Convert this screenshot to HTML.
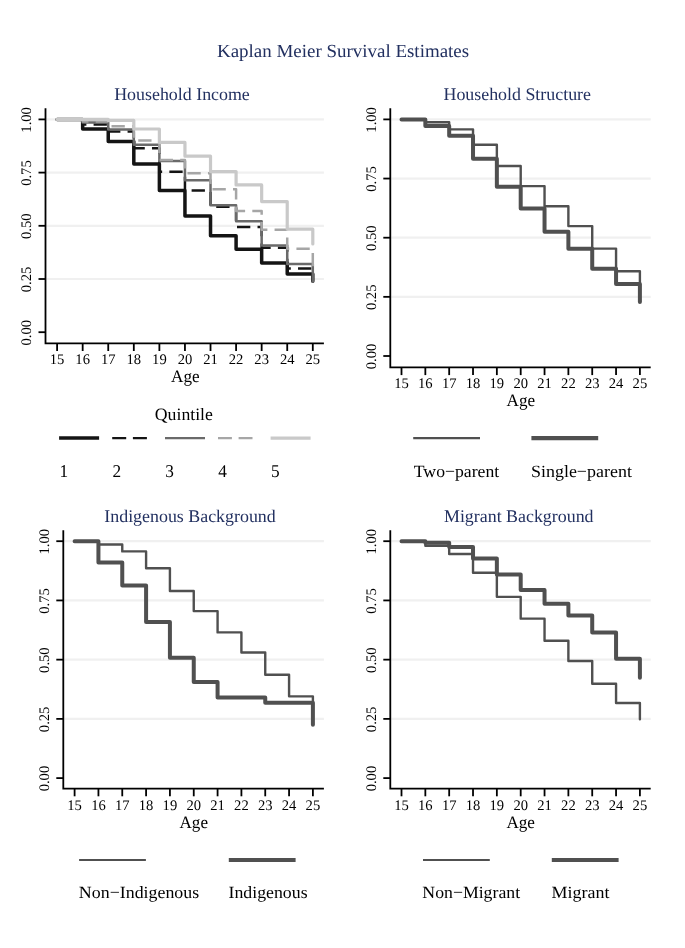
<!DOCTYPE html>
<html><head><meta charset="utf-8"><title>Kaplan Meier Survival Estimates</title>
<style>
html,body{margin:0;padding:0;background:#fff;}
body{width:685px;height:948px;overflow:hidden;}
svg{display:block;will-change:transform;text-rendering:geometricPrecision;}
text{font-family:"Liberation Serif", serif;fill:#000;}
.tl{font-size:14.6px;}
.yl{font-size:14.6px;}
.ld{font-size:18px;}
.al{font-size:17px;}
.st{font-size:16.6px;fill:#223060;}
.mt{font-size:18px;fill:#223060;}
</style></head>
<body>
<svg width="685" height="948" viewBox="0 0 685 948">
<rect width="685" height="948" fill="#fff"/>
<line x1="46.5" y1="279" x2="323.9" y2="279" stroke="#f0f0f0" stroke-width="2.2"/>
<line x1="46.5" y1="225.8" x2="323.9" y2="225.8" stroke="#f0f0f0" stroke-width="2.2"/>
<line x1="46.5" y1="172.6" x2="323.9" y2="172.6" stroke="#f0f0f0" stroke-width="2.2"/>
<line x1="46.5" y1="119.4" x2="323.9" y2="119.4" stroke="#f0f0f0" stroke-width="2.2"/>
<path d="M57.1 119.4 L82.67 119.4 L82.67 128.98 L108.24 128.98 L108.24 141.53 L133.81 141.53 L133.81 164.09 L159.38 164.09 L159.38 190.48 L184.95 190.48 L184.95 216.01 L210.52 216.01 L210.52 235.8 L236.09 235.8 L236.09 249.21 L261.66 249.21 L261.66 263.04 L287.23 263.04 L287.23 273.89 L312.8 273.89 L312.8 281.13" fill="none" stroke="#141414" stroke-width="3.5" stroke-linecap="round" stroke-linejoin="round"/>
<path d="M57.1 119.4 L82.67 119.4 L82.67 124.51 L108.24 124.51 L108.24 131.53 L133.81 131.53 L133.81 148.13 L159.38 148.13 L159.38 171.75 L184.95 171.75 L184.95 190.48 L210.52 190.48 L210.52 206.86 L236.09 206.86 L236.09 227.08 L261.66 227.08 L261.66 247.72 L287.23 247.72 L287.23 268.57 L312.8 268.57 L312.8 272.62" fill="none" stroke="#141414" stroke-width="2.5" stroke-linecap="butt" stroke-linejoin="round" stroke-dasharray="13.3 7.2" stroke-dashoffset="19.9"/>
<path d="M57.1 119.4 L82.67 119.4 L82.67 122.59 L108.24 122.59 L108.24 129.61 L133.81 129.61 L133.81 144.72 L159.38 144.72 L159.38 161.11 L184.95 161.11 L184.95 180.26 L210.52 180.26 L210.52 205.16 L236.09 205.16 L236.09 221.33 L261.66 221.33 L261.66 245.59 L287.23 245.59 L287.23 264.1 L312.8 264.1 L312.8 281.77" fill="none" stroke="#6a6a6a" stroke-width="2.5" stroke-linecap="round" stroke-linejoin="round"/>
<path d="M57.1 119.4 L82.67 119.4 L82.67 121.53 L108.24 121.53 L108.24 126.21 L133.81 126.21 L133.81 140.47 L159.38 140.47 L159.38 160.04 L184.95 160.04 L184.95 173.24 L210.52 173.24 L210.52 189.2 L236.09 189.2 L236.09 210.9 L261.66 210.9 L261.66 229.63 L287.23 229.63 L287.23 248.78 L312.8 248.78 L312.8 266.23" fill="none" stroke="#a6a6a6" stroke-width="2.5" stroke-linecap="butt" stroke-linejoin="round" stroke-dasharray="13.3 7.2" stroke-dashoffset="0.29"/>
<path d="M57.1 119.4 L82.67 119.4 L82.67 119.4 L108.24 119.4 L108.24 120.46 L133.81 120.46 L133.81 128.98 L159.38 128.98 L159.38 142.38 L184.95 142.38 L184.95 156.21 L210.52 156.21 L210.52 171.54 L236.09 171.54 L236.09 184.94 L261.66 184.94 L261.66 201.54 L287.23 201.54 L287.23 229.2 L312.8 229.2 L312.8 243.89" fill="none" stroke="#c9c9c9" stroke-width="3.2" stroke-linecap="round" stroke-linejoin="round"/>
<path d="M45.5 108.3 L45.5 343.3 L323.9 343.3" fill="none" stroke="#000" stroke-width="1.8" stroke-linecap="butt" stroke-linejoin="miter"/>
<line x1="38.5" y1="332.2" x2="45.5" y2="332.2" stroke="#000" stroke-width="1.8"/>
<text class="yl" transform="translate(31.4 332.7) rotate(-90) scale(1.0 1)" text-anchor="middle">0.00</text>
<line x1="38.5" y1="279" x2="45.5" y2="279" stroke="#000" stroke-width="1.8"/>
<text class="yl" transform="translate(31.4 279.5) rotate(-90) scale(1.0 1)" text-anchor="middle">0.25</text>
<line x1="38.5" y1="225.8" x2="45.5" y2="225.8" stroke="#000" stroke-width="1.8"/>
<text class="yl" transform="translate(31.4 226.3) rotate(-90) scale(1.0 1)" text-anchor="middle">0.50</text>
<line x1="38.5" y1="172.6" x2="45.5" y2="172.6" stroke="#000" stroke-width="1.8"/>
<text class="yl" transform="translate(31.4 173.1) rotate(-90) scale(1.0 1)" text-anchor="middle">0.75</text>
<line x1="38.5" y1="119.4" x2="45.5" y2="119.4" stroke="#000" stroke-width="1.8"/>
<text class="yl" transform="translate(31.4 119.9) rotate(-90) scale(1.0 1)" text-anchor="middle">1.00</text>
<line x1="57.1" y1="343.3" x2="57.1" y2="351" stroke="#000" stroke-width="1.8"/>
<text class="tl" x="57.1" y="364" text-anchor="middle">15</text>
<line x1="82.67" y1="343.3" x2="82.67" y2="351" stroke="#000" stroke-width="1.8"/>
<text class="tl" x="82.67" y="364" text-anchor="middle">16</text>
<line x1="108.24" y1="343.3" x2="108.24" y2="351" stroke="#000" stroke-width="1.8"/>
<text class="tl" x="108.24" y="364" text-anchor="middle">17</text>
<line x1="133.81" y1="343.3" x2="133.81" y2="351" stroke="#000" stroke-width="1.8"/>
<text class="tl" x="133.81" y="364" text-anchor="middle">18</text>
<line x1="159.38" y1="343.3" x2="159.38" y2="351" stroke="#000" stroke-width="1.8"/>
<text class="tl" x="159.38" y="364" text-anchor="middle">19</text>
<line x1="184.95" y1="343.3" x2="184.95" y2="351" stroke="#000" stroke-width="1.8"/>
<text class="tl" x="184.95" y="364" text-anchor="middle">20</text>
<line x1="210.52" y1="343.3" x2="210.52" y2="351" stroke="#000" stroke-width="1.8"/>
<text class="tl" x="210.52" y="364" text-anchor="middle">21</text>
<line x1="236.09" y1="343.3" x2="236.09" y2="351" stroke="#000" stroke-width="1.8"/>
<text class="tl" x="236.09" y="364" text-anchor="middle">22</text>
<line x1="261.66" y1="343.3" x2="261.66" y2="351" stroke="#000" stroke-width="1.8"/>
<text class="tl" x="261.66" y="364" text-anchor="middle">23</text>
<line x1="287.23" y1="343.3" x2="287.23" y2="351" stroke="#000" stroke-width="1.8"/>
<text class="tl" x="287.23" y="364" text-anchor="middle">24</text>
<line x1="312.8" y1="343.3" x2="312.8" y2="351" stroke="#000" stroke-width="1.8"/>
<text class="tl" x="312.8" y="364" text-anchor="middle">25</text>
<line x1="391.3" y1="296.85" x2="650.7" y2="296.85" stroke="#f0f0f0" stroke-width="2.2"/>
<line x1="391.3" y1="237.7" x2="650.7" y2="237.7" stroke="#f0f0f0" stroke-width="2.2"/>
<line x1="391.3" y1="178.55" x2="650.7" y2="178.55" stroke="#f0f0f0" stroke-width="2.2"/>
<line x1="391.3" y1="119.4" x2="650.7" y2="119.4" stroke="#f0f0f0" stroke-width="2.2"/>
<path d="M401.5 119.4 L425.34 119.4 L425.34 122.24 L449.18 122.24 L449.18 129.34 L473.02 129.34 L473.02 144.72 L496.86 144.72 L496.86 166.01 L520.7 166.01 L520.7 186.12 L544.54 186.12 L544.54 206.23 L568.38 206.23 L568.38 226.11 L592.22 226.11 L592.22 248.58 L616.06 248.58 L616.06 271.3 L639.9 271.3 L639.9 282.65" fill="none" stroke="#505050" stroke-width="2.4" stroke-linecap="round" stroke-linejoin="round"/>
<path d="M401.5 119.4 L425.34 119.4 L425.34 126.02 L449.18 126.02 L449.18 135.73 L473.02 135.73 L473.02 158.68 L496.86 158.68 L496.86 186.83 L520.7 186.83 L520.7 208.6 L544.54 208.6 L544.54 231.78 L568.38 231.78 L568.38 248.82 L592.22 248.82 L592.22 268.69 L616.06 268.69 L616.06 284.07 L639.9 284.07 L639.9 302.06" fill="none" stroke="#505050" stroke-width="4.0" stroke-linecap="round" stroke-linejoin="round"/>
<path d="M390.3 108.3 L390.3 367.4 L650.7 367.4" fill="none" stroke="#000" stroke-width="1.8" stroke-linecap="butt" stroke-linejoin="miter"/>
<line x1="383.3" y1="356" x2="390.3" y2="356" stroke="#000" stroke-width="1.8"/>
<text class="yl" transform="translate(376 356.5) rotate(-90) scale(1.0 1)" text-anchor="middle">0.00</text>
<line x1="383.3" y1="296.85" x2="390.3" y2="296.85" stroke="#000" stroke-width="1.8"/>
<text class="yl" transform="translate(376 297.35) rotate(-90) scale(1.0 1)" text-anchor="middle">0.25</text>
<line x1="383.3" y1="237.7" x2="390.3" y2="237.7" stroke="#000" stroke-width="1.8"/>
<text class="yl" transform="translate(376 238.2) rotate(-90) scale(1.0 1)" text-anchor="middle">0.50</text>
<line x1="383.3" y1="178.55" x2="390.3" y2="178.55" stroke="#000" stroke-width="1.8"/>
<text class="yl" transform="translate(376 179.05) rotate(-90) scale(1.0 1)" text-anchor="middle">0.75</text>
<line x1="383.3" y1="119.4" x2="390.3" y2="119.4" stroke="#000" stroke-width="1.8"/>
<text class="yl" transform="translate(376 119.9) rotate(-90) scale(1.0 1)" text-anchor="middle">1.00</text>
<line x1="401.5" y1="367.4" x2="401.5" y2="375.1" stroke="#000" stroke-width="1.8"/>
<text class="tl" x="401.5" y="387.8" text-anchor="middle">15</text>
<line x1="425.34" y1="367.4" x2="425.34" y2="375.1" stroke="#000" stroke-width="1.8"/>
<text class="tl" x="425.34" y="387.8" text-anchor="middle">16</text>
<line x1="449.18" y1="367.4" x2="449.18" y2="375.1" stroke="#000" stroke-width="1.8"/>
<text class="tl" x="449.18" y="387.8" text-anchor="middle">17</text>
<line x1="473.02" y1="367.4" x2="473.02" y2="375.1" stroke="#000" stroke-width="1.8"/>
<text class="tl" x="473.02" y="387.8" text-anchor="middle">18</text>
<line x1="496.86" y1="367.4" x2="496.86" y2="375.1" stroke="#000" stroke-width="1.8"/>
<text class="tl" x="496.86" y="387.8" text-anchor="middle">19</text>
<line x1="520.7" y1="367.4" x2="520.7" y2="375.1" stroke="#000" stroke-width="1.8"/>
<text class="tl" x="520.7" y="387.8" text-anchor="middle">20</text>
<line x1="544.54" y1="367.4" x2="544.54" y2="375.1" stroke="#000" stroke-width="1.8"/>
<text class="tl" x="544.54" y="387.8" text-anchor="middle">21</text>
<line x1="568.38" y1="367.4" x2="568.38" y2="375.1" stroke="#000" stroke-width="1.8"/>
<text class="tl" x="568.38" y="387.8" text-anchor="middle">22</text>
<line x1="592.22" y1="367.4" x2="592.22" y2="375.1" stroke="#000" stroke-width="1.8"/>
<text class="tl" x="592.22" y="387.8" text-anchor="middle">23</text>
<line x1="616.06" y1="367.4" x2="616.06" y2="375.1" stroke="#000" stroke-width="1.8"/>
<text class="tl" x="616.06" y="387.8" text-anchor="middle">24</text>
<line x1="639.9" y1="367.4" x2="639.9" y2="375.1" stroke="#000" stroke-width="1.8"/>
<text class="tl" x="639.9" y="387.8" text-anchor="middle">25</text>
<line x1="64.3" y1="718.88" x2="323.9" y2="718.88" stroke="#f0f0f0" stroke-width="2.2"/>
<line x1="64.3" y1="659.65" x2="323.9" y2="659.65" stroke="#f0f0f0" stroke-width="2.2"/>
<line x1="64.3" y1="600.43" x2="323.9" y2="600.43" stroke="#f0f0f0" stroke-width="2.2"/>
<line x1="64.3" y1="541.2" x2="323.9" y2="541.2" stroke="#f0f0f0" stroke-width="2.2"/>
<path d="M74.6 541.2 L98.43 541.2 L98.43 544.52 L122.26 544.52 L122.26 551.39 L146.09 551.39 L146.09 568.21 L169.92 568.21 L169.92 590.95 L193.75 590.95 L193.75 611.09 L217.58 611.09 L217.58 632.41 L241.41 632.41 L241.41 652.54 L265.24 652.54 L265.24 674.81 L289.07 674.81 L289.07 696.37 L312.9 696.37 L312.9 702.29" fill="none" stroke="#505050" stroke-width="2.4" stroke-linecap="round" stroke-linejoin="round"/>
<path d="M74.6 541.2 L98.43 541.2 L98.43 562.52 L122.26 562.52 L122.26 585.5 L146.09 585.5 L146.09 621.98 L169.92 621.98 L169.92 657.75 L193.75 657.75 L193.75 681.92 L217.58 681.92 L217.58 697.55 L241.41 697.55 L241.41 697.55 L265.24 697.55 L265.24 702.77 L289.07 702.77 L289.07 702.77 L312.9 702.77 L312.9 724.8" fill="none" stroke="#505050" stroke-width="4.0" stroke-linecap="round" stroke-linejoin="round"/>
<path d="M63.3 530.3 L63.3 788.6 L323.9 788.6" fill="none" stroke="#000" stroke-width="1.8" stroke-linecap="butt" stroke-linejoin="miter"/>
<line x1="56.3" y1="778.1" x2="63.3" y2="778.1" stroke="#000" stroke-width="1.8"/>
<text class="yl" transform="translate(48.8 778.6) rotate(-90) scale(1.0 1)" text-anchor="middle">0.00</text>
<line x1="56.3" y1="718.88" x2="63.3" y2="718.88" stroke="#000" stroke-width="1.8"/>
<text class="yl" transform="translate(48.8 719.38) rotate(-90) scale(1.0 1)" text-anchor="middle">0.25</text>
<line x1="56.3" y1="659.65" x2="63.3" y2="659.65" stroke="#000" stroke-width="1.8"/>
<text class="yl" transform="translate(48.8 660.15) rotate(-90) scale(1.0 1)" text-anchor="middle">0.50</text>
<line x1="56.3" y1="600.43" x2="63.3" y2="600.43" stroke="#000" stroke-width="1.8"/>
<text class="yl" transform="translate(48.8 600.93) rotate(-90) scale(1.0 1)" text-anchor="middle">0.75</text>
<line x1="56.3" y1="541.2" x2="63.3" y2="541.2" stroke="#000" stroke-width="1.8"/>
<text class="yl" transform="translate(48.8 541.7) rotate(-90) scale(1.0 1)" text-anchor="middle">1.00</text>
<line x1="74.6" y1="788.6" x2="74.6" y2="796.3" stroke="#000" stroke-width="1.8"/>
<text class="tl" x="74.6" y="809.9" text-anchor="middle">15</text>
<line x1="98.43" y1="788.6" x2="98.43" y2="796.3" stroke="#000" stroke-width="1.8"/>
<text class="tl" x="98.43" y="809.9" text-anchor="middle">16</text>
<line x1="122.26" y1="788.6" x2="122.26" y2="796.3" stroke="#000" stroke-width="1.8"/>
<text class="tl" x="122.26" y="809.9" text-anchor="middle">17</text>
<line x1="146.09" y1="788.6" x2="146.09" y2="796.3" stroke="#000" stroke-width="1.8"/>
<text class="tl" x="146.09" y="809.9" text-anchor="middle">18</text>
<line x1="169.92" y1="788.6" x2="169.92" y2="796.3" stroke="#000" stroke-width="1.8"/>
<text class="tl" x="169.92" y="809.9" text-anchor="middle">19</text>
<line x1="193.75" y1="788.6" x2="193.75" y2="796.3" stroke="#000" stroke-width="1.8"/>
<text class="tl" x="193.75" y="809.9" text-anchor="middle">20</text>
<line x1="217.58" y1="788.6" x2="217.58" y2="796.3" stroke="#000" stroke-width="1.8"/>
<text class="tl" x="217.58" y="809.9" text-anchor="middle">21</text>
<line x1="241.41" y1="788.6" x2="241.41" y2="796.3" stroke="#000" stroke-width="1.8"/>
<text class="tl" x="241.41" y="809.9" text-anchor="middle">22</text>
<line x1="265.24" y1="788.6" x2="265.24" y2="796.3" stroke="#000" stroke-width="1.8"/>
<text class="tl" x="265.24" y="809.9" text-anchor="middle">23</text>
<line x1="289.07" y1="788.6" x2="289.07" y2="796.3" stroke="#000" stroke-width="1.8"/>
<text class="tl" x="289.07" y="809.9" text-anchor="middle">24</text>
<line x1="312.9" y1="788.6" x2="312.9" y2="796.3" stroke="#000" stroke-width="1.8"/>
<text class="tl" x="312.9" y="809.9" text-anchor="middle">25</text>
<line x1="391.3" y1="718.88" x2="650.7" y2="718.88" stroke="#f0f0f0" stroke-width="2.2"/>
<line x1="391.3" y1="659.65" x2="650.7" y2="659.65" stroke="#f0f0f0" stroke-width="2.2"/>
<line x1="391.3" y1="600.43" x2="650.7" y2="600.43" stroke="#f0f0f0" stroke-width="2.2"/>
<line x1="391.3" y1="541.2" x2="650.7" y2="541.2" stroke="#f0f0f0" stroke-width="2.2"/>
<path d="M401.5 541.2 L425.34 541.2 L425.34 545.7 L449.18 545.7 L449.18 553.99 L473.02 553.99 L473.02 572.71 L496.86 572.71 L496.86 596.87 L520.7 596.87 L520.7 618.67 L544.54 618.67 L544.54 640.7 L568.38 640.7 L568.38 661.07 L592.22 661.07 L592.22 683.81 L616.06 683.81 L616.06 703 L639.9 703 L639.9 719.35" fill="none" stroke="#505050" stroke-width="2.4" stroke-linecap="round" stroke-linejoin="round"/>
<path d="M401.5 541.2 L425.34 541.2 L425.34 542.86 L449.18 542.86 L449.18 546.89 L473.02 546.89 L473.02 558.49 L496.86 558.49 L496.86 574.6 L520.7 574.6 L520.7 590 L544.54 590 L544.54 603.74 L568.38 603.74 L568.38 615.59 L592.22 615.59 L592.22 632.41 L616.06 632.41 L616.06 658.7 L639.9 658.7 L639.9 677.65" fill="none" stroke="#505050" stroke-width="4.0" stroke-linecap="round" stroke-linejoin="round"/>
<path d="M390.3 530.3 L390.3 788.6 L650.7 788.6" fill="none" stroke="#000" stroke-width="1.8" stroke-linecap="butt" stroke-linejoin="miter"/>
<line x1="383.3" y1="778.1" x2="390.3" y2="778.1" stroke="#000" stroke-width="1.8"/>
<text class="yl" transform="translate(376 778.6) rotate(-90) scale(1.0 1)" text-anchor="middle">0.00</text>
<line x1="383.3" y1="718.88" x2="390.3" y2="718.88" stroke="#000" stroke-width="1.8"/>
<text class="yl" transform="translate(376 719.38) rotate(-90) scale(1.0 1)" text-anchor="middle">0.25</text>
<line x1="383.3" y1="659.65" x2="390.3" y2="659.65" stroke="#000" stroke-width="1.8"/>
<text class="yl" transform="translate(376 660.15) rotate(-90) scale(1.0 1)" text-anchor="middle">0.50</text>
<line x1="383.3" y1="600.43" x2="390.3" y2="600.43" stroke="#000" stroke-width="1.8"/>
<text class="yl" transform="translate(376 600.93) rotate(-90) scale(1.0 1)" text-anchor="middle">0.75</text>
<line x1="383.3" y1="541.2" x2="390.3" y2="541.2" stroke="#000" stroke-width="1.8"/>
<text class="yl" transform="translate(376 541.7) rotate(-90) scale(1.0 1)" text-anchor="middle">1.00</text>
<line x1="401.5" y1="788.6" x2="401.5" y2="796.3" stroke="#000" stroke-width="1.8"/>
<text class="tl" x="401.5" y="809.9" text-anchor="middle">15</text>
<line x1="425.34" y1="788.6" x2="425.34" y2="796.3" stroke="#000" stroke-width="1.8"/>
<text class="tl" x="425.34" y="809.9" text-anchor="middle">16</text>
<line x1="449.18" y1="788.6" x2="449.18" y2="796.3" stroke="#000" stroke-width="1.8"/>
<text class="tl" x="449.18" y="809.9" text-anchor="middle">17</text>
<line x1="473.02" y1="788.6" x2="473.02" y2="796.3" stroke="#000" stroke-width="1.8"/>
<text class="tl" x="473.02" y="809.9" text-anchor="middle">18</text>
<line x1="496.86" y1="788.6" x2="496.86" y2="796.3" stroke="#000" stroke-width="1.8"/>
<text class="tl" x="496.86" y="809.9" text-anchor="middle">19</text>
<line x1="520.7" y1="788.6" x2="520.7" y2="796.3" stroke="#000" stroke-width="1.8"/>
<text class="tl" x="520.7" y="809.9" text-anchor="middle">20</text>
<line x1="544.54" y1="788.6" x2="544.54" y2="796.3" stroke="#000" stroke-width="1.8"/>
<text class="tl" x="544.54" y="809.9" text-anchor="middle">21</text>
<line x1="568.38" y1="788.6" x2="568.38" y2="796.3" stroke="#000" stroke-width="1.8"/>
<text class="tl" x="568.38" y="809.9" text-anchor="middle">22</text>
<line x1="592.22" y1="788.6" x2="592.22" y2="796.3" stroke="#000" stroke-width="1.8"/>
<text class="tl" x="592.22" y="809.9" text-anchor="middle">23</text>
<line x1="616.06" y1="788.6" x2="616.06" y2="796.3" stroke="#000" stroke-width="1.8"/>
<text class="tl" x="616.06" y="809.9" text-anchor="middle">24</text>
<line x1="639.9" y1="788.6" x2="639.9" y2="796.3" stroke="#000" stroke-width="1.8"/>
<text class="tl" x="639.9" y="809.9" text-anchor="middle">25</text>
<text transform="translate(216.98 57.20) scale(1.0245 1)" style="font-size:18.5px;fill:#223060">Kaplan Meier Survival Estimates</text>
<text transform="translate(114.19 99.90) scale(1.0060 1)" style="font-size:17.8px;fill:#223060">Household Income</text>
<text transform="translate(443.49 99.80) scale(1.0055 1)" style="font-size:17.8px;fill:#223060">Household Structure</text>
<text transform="translate(104.29 521.60) scale(1.0065 1)" style="font-size:17.8px;fill:#223060">Indigenous Background</text>
<text transform="translate(443.99 521.60) scale(1.0061 1)" style="font-size:17.8px;fill:#223060">Migrant Background</text>
<text transform="translate(171.00 382.30) scale(0.9862 1)" style="font-size:17.4px;fill:#000">Age</text>
<text transform="translate(506.60 406.30) scale(0.9862 1)" style="font-size:17.4px;fill:#000">Age</text>
<text transform="translate(179.50 827.70) scale(0.9828 1)" style="font-size:17.4px;fill:#000">Age</text>
<text transform="translate(506.40 827.70) scale(0.9862 1)" style="font-size:17.4px;fill:#000">Age</text>
<text transform="translate(154.78 419.70) scale(1.0196 1)" style="font-size:17.4px;fill:#000">Quintile</text>
<text transform="translate(413.80 476.60) scale(1.0289 1)" style="font-size:17.2px;fill:#000">Two&#8722;parent</text>
<text transform="translate(530.95 476.60) scale(1.0453 1)" style="font-size:17.2px;fill:#000">Single&#8722;parent</text>
<text transform="translate(78.86 898.30) scale(1.0404 1)" style="font-size:17.2px;fill:#000">Non&#8722;Indigenous</text>
<text transform="translate(228.46 898.30) scale(1.0360 1)" style="font-size:17.2px;fill:#000">Indigenous</text>
<text transform="translate(422.37 898.30) scale(1.0319 1)" style="font-size:17.2px;fill:#000">Non&#8722;Migrant</text>
<text transform="translate(551.55 898.30) scale(1.0463 1)" style="font-size:17.2px;fill:#000">Migrant</text>
<line x1="59.1" y1="438.1" x2="99.1" y2="438.1" stroke="#141414" stroke-width="3.5"/>
<text class="ld" transform="translate(59.4 476.7) scale(0.96 1)">1</text>
<line x1="112.2" y1="438.1" x2="152.2" y2="438.1" stroke="#141414" stroke-width="2.4" stroke-dasharray="14 6.7"/>
<text class="ld" transform="translate(112.5 476.7) scale(0.96 1)">2</text>
<line x1="165" y1="438.1" x2="205" y2="438.1" stroke="#6a6a6a" stroke-width="2.4"/>
<text class="ld" transform="translate(165.3 476.7) scale(0.96 1)">3</text>
<line x1="218" y1="438.1" x2="258" y2="438.1" stroke="#a6a6a6" stroke-width="2.4" stroke-dasharray="13.9 6.7"/>
<text class="ld" transform="translate(218.3 476.7) scale(0.96 1)">4</text>
<line x1="270.6" y1="438.1" x2="310.6" y2="438.1" stroke="#c9c9c9" stroke-width="3.2"/>
<text class="ld" transform="translate(270.9 476.7) scale(0.96 1)">5</text>
<line x1="413.2" y1="438.1" x2="480" y2="438.1" stroke="#505050" stroke-width="2.2"/>
<line x1="531.4" y1="438.1" x2="598.2" y2="438.1" stroke="#505050" stroke-width="4.2"/>
<line x1="79.1" y1="860" x2="145.9" y2="860" stroke="#505050" stroke-width="2.2"/>
<line x1="228.8" y1="860" x2="295.6" y2="860" stroke="#505050" stroke-width="4.2"/>
<line x1="423" y1="860" x2="489.8" y2="860" stroke="#505050" stroke-width="2.2"/>
<line x1="551.8" y1="860" x2="618.6" y2="860" stroke="#505050" stroke-width="4.2"/>
</svg>
</body></html>
